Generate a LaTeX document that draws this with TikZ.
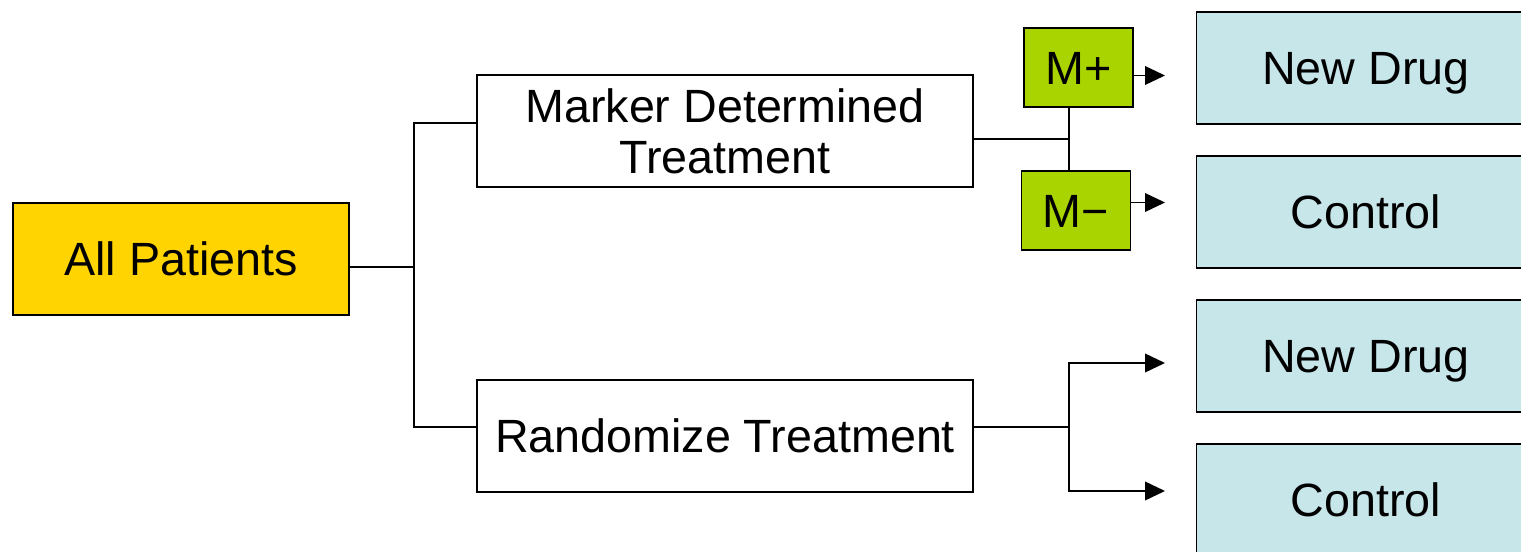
\documentclass[tikz,border=0pt]{standalone}
\usepackage{fontspec}
\setmainfont{Liberation Sans}
\usepackage{tikz}
\usetikzlibrary{arrows.meta, positioning, calc}
\definecolor{gold}{HTML}{FFD400}
\definecolor{lime}{HTML}{AAD400}
\definecolor{pale}{HTML}{C6E6EA}
\tikzset{
  box/.style={draw, line width=1.2pt, fill=#1, inner sep=0pt, align=center,
    font=\fontsize{35}{38}\selectfont, minimum height=84pt},
  box/.default=white,
  one/.style={text height=25pt, text depth=0pt},
  mk/.style={box=lime, one, minimum height=59pt},
  link/.style={line width=1.2pt},
  arr/.style={link, -{Triangle[length=15pt, width=14pt]}},
}
\begin{document}
\begin{tikzpicture}[x=0.75pt, y=-0.75pt]
    \useasboundingbox (0,0) rectangle (1521,552);
    \clip (0,0) rectangle (1521,552);
    \node[box=gold, one, minimum width=252pt] (all) at (181,259) {All Patients};
    \node[box, minimum width=372pt] (marker) at (725,131) {Marker Determined\\Treatment};
    \node[box, one, minimum width=372pt] (random) at (725,436) {Randomize Treatment};
    \node[mk, minimum width=82pt] (mplus) at (1078.5,67.5) {M+};
    \node[mk, minimum width=82pt] (mminus) at (1076,210.5) {M\textminus};
    \node[box=pale, one, minimum width=254pt] (drugA) at (1366,68) {New Drug};
    \node[box=pale, one, minimum width=254pt] (ctrlA) at (1366,212) {Control};
    \node[box=pale, one, minimum width=254pt] (drugB) at (1366,356) {New Drug};
    \node[box=pale, one, minimum width=254pt] (ctrlB) at (1366,500) {Control};
    % forks
    \draw[link] ([yshift=-6pt]all.east) -- ++(64,0) coordinate (f1);
    \draw[link] ([yshift=6pt]marker.west) -| (f1) |- ([yshift=6.75pt]random.west);
    \coordinate (f2) at (1069,139);
    \draw[link] ([yshift=-6pt]marker.east) -- (f2);
    \draw[link] (mplus.south -| f2) -- (mminus.north -| f2);
    \coordinate (f3) at (1069,427);
    \draw[link] ([yshift=6.75pt]random.east) -- (f3);
    % arrows
    \coordinate (tip) at (1165,0);
    \draw[arr] ([yshift=-6pt]mplus.east) coordinate (p1) -- (p1 -| tip);
    \draw[arr] ([yshift=6pt]mminus.east) coordinate (p2) -- (p2 -| tip);
    \draw[arr] (f3) |- ([yshift=-5.25pt]drugB.west -| tip);
    \draw[arr] (f3) |- ([yshift=6.75pt]ctrlB.west -| tip);
  \end{tikzpicture}
\end{document}
